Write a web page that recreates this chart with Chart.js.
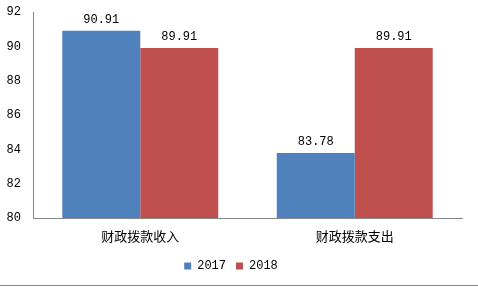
<!DOCTYPE html>
<html>
<head>
<meta charset="utf-8">
<script src="https://cdn.jsdelivr.net/npm/chart.js@4/dist/chart.umd.min.js"></script>
<style>
  html, body { margin: 0; padding: 0; background: #fff; }
  #wrap { width: 478px; height: 287px; }
</style>
</head>
<body>
<div id="wrap"><canvas id="myChart" width="478" height="287"></canvas></div>
<script>
const categories = ['财政拨款收入', '财政拨款支出'];
const values2017 = [90.91, 83.78];
const values2018 = [89.91, 89.91];
const yTicks = [80, 82, 84, 86, 88, 90, 92];

const monoFont = '"Liberation Mono", "Noto Sans CJK SC", monospace';

// value labels above the bars
const barLabels = {
    id: 'barLabels',
    afterDatasetsDraw(chart) {
        const ctx = chart.ctx;
        ctx.save();
        ctx.font = '12px ' + monoFont;
        ctx.fillStyle = '#000';
        ctx.textAlign = 'center';
        ctx.textBaseline = 'bottom';
        chart.data.datasets.forEach((ds, i) => {
            chart.getDatasetMeta(i).data.forEach((bar, j) => {
                ctx.fillText(ds.data[j].toFixed(2), bar.x, bar.y - 5);
            });
        });
        ctx.restore();
    }
};

// thin bottom frame line
const bottomLine = {
    id: 'bottomLine',
    afterDraw(chart) {
        const ctx = chart.ctx;
        ctx.save();
        ctx.strokeStyle = '#888888';
        ctx.lineWidth = 1;
        ctx.beginPath();
        ctx.moveTo(0, chart.height - 1.5);
        ctx.lineTo(chart.width, chart.height - 1.5);
        ctx.stroke();
        ctx.restore();
    }
};

const chart1 = document.getElementById('myChart').getContext('2d');
new Chart(chart1, {
    type: 'bar',
    data: {
        labels: categories,
        datasets: [{
            label: '2017',
            data: values2017,
            backgroundColor: '#4F81BD'
        }, {
            label: '2018',
            data: values2018,
            backgroundColor: '#C0504D'
        }]
    },
    options: {
        responsive: false,
        animation: false,
        layout: {
            padding: { left: 0, right: 16, top: 12, bottom: 5 }
        },
        datasets: {
            bar: { categoryPercentage: 0.727, barPercentage: 1.0 }
        },
        plugins: {
            legend: {
                position: 'bottom',
                labels: {
                    boxWidth: 7,
                    boxHeight: 7,
                    padding: 10,
                    color: '#000',
                    font: { size: 12, family: monoFont }
                }
            },
            tooltip: { enabled: false }
        },
        scales: {
            x: {
                grid: { display: false },
                border: { color: '#868686', width: 1 },
                ticks: {
                    color: '#000',
                    padding: 2,
                    font: { size: 13, family: '"Noto Sans CJK SC", sans-serif' }
                },
                afterFit(scale) { scale.height = 32; }
            },
            y: {
                min: 80,
                max: 92,
                grid: { display: false },
                border: { color: '#868686', width: 1 },
                afterBuildTicks(scale) {
                    scale.ticks = yTicks.map(v => ({ value: v }));
                },
                ticks: {
                    color: '#000',
                    padding: 4,
                    font: { size: 12, family: monoFont }
                },
                afterFit(scale) { scale.width = 33; }
            }
        }
    },
    plugins: [barLabels, bottomLine]
});
</script>
</body>
</html>
